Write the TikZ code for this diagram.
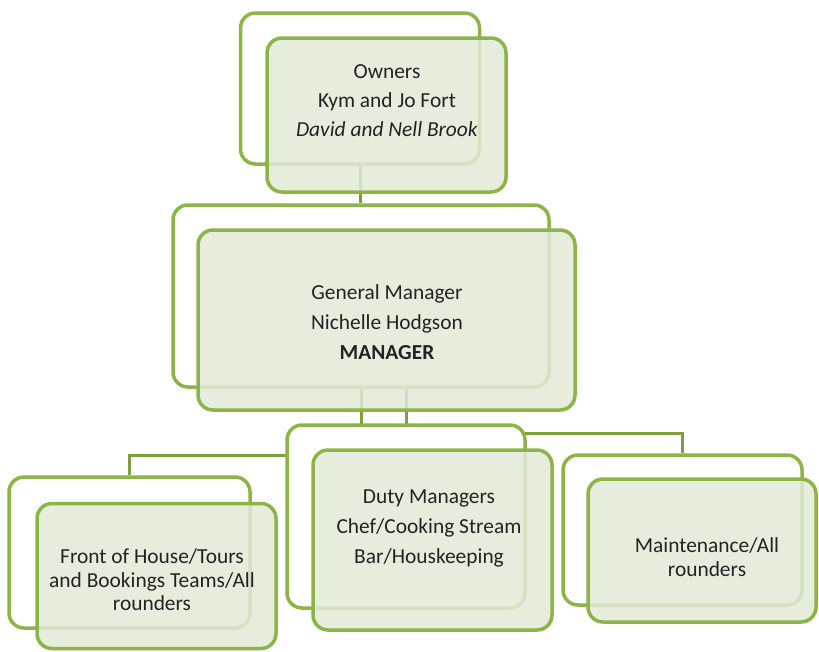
\documentclass[tikz,border=0pt]{standalone}
\usepackage{fontspec}
\setmainfont{Carlito}
\usetikzlibrary{backgrounds}
\definecolor{boxgreen}{RGB}{140,180,70}
\definecolor{linkgreen}{RGB}{125,160,60}
\definecolor{frontfill}{RGB}{226,234,214}
\definecolor{txt}{RGB}{35,35,35}
\begin{document}
\begin{tikzpicture}[x=1pt,y=1pt,
  backbox/.style={draw=boxgreen,line width=3.5pt,rounded corners=15pt,fill=white,inner sep=0pt},
  frontbox/.style={draw=boxgreen,line width=3.5pt,rounded corners=15pt,fill=frontfill,fill opacity=0.85,draw opacity=1,inner sep=0pt},
  label/.style={font=\fontsize{21.4}{23.5}\selectfont,text=txt,align=center,inner sep=0pt},
  link/.style={draw=linkgreen,line width=3pt}]
\useasboundingbox (0,0) rectangle (819,-651);
% back boxes
\node[backbox,minimum width=239pt,minimum height=151pt] (own1) at (360,-88.5) {};
\node[backbox,minimum width=376pt,minimum height=182pt] (gm1) at (361,-296) {};
\node[backbox,minimum width=241pt,minimum height=151pt] (foh1) at (129.5,-552.5) {};
\node[backbox,minimum width=238pt,minimum height=183pt] (duty1) at (406,-516.5) {};
\node[backbox,minimum width=239pt,minimum height=150pt] (mnt1) at (682.5,-530) {};
% front boxes
\node[frontbox,minimum width=239pt,minimum height=154pt] (own2) at (386.5,-115) {};
\node[frontbox,minimum width=377pt,minimum height=180pt] (gm2) at (386.5,-320) {};
\node[frontbox,minimum width=239pt,minimum height=145pt] (foh2) at (156.5,-576) {};
\node[frontbox,minimum width=239pt,minimum height=180pt] (duty2) at (432.5,-540) {};
\node[frontbox,minimum width=228pt,minimum height=143pt] (mnt2) at (702,-550.5) {};
% texts
\node[label] (ownT) at (387,-101) {Owners\\[5.5pt] Kym and Jo Fort\\[5.5pt] \textit{David and Nell Brook}};
\node[label] (gmT) at (387,-322) {General Manager\\[6.5pt] Nichelle Hodgson\\[6.5pt] \textbf{MANAGER}};
\node[label] (dutyT) at (429,-528) {Duty Managers\\[6.5pt] Chef/Cooking Stream\\[6.5pt] Bar/Houskeeping};
\node[label] (fohT) at (152,-580) {Front of House/Tours\\ and Bookings Teams/All\\ rounders};
\node[label] (mntT) at (707,-557) {Maintenance/All\\ rounders};
% connectors
\coordinate (jl) at (0,-455);
\coordinate (jr) at (0,-433);
\begin{pgfonlayer}{background}
\draw[link] (own1.south) -- (own1.south |- gm1.north);
\draw[link] (gm1.south) -- (gm1.south |- jl) -| (foh1.north);
\draw[link] (gm1.south -| duty1.north) -- (duty1.north);
\draw[link] (gm1.south -| duty1.north) -- (duty1.north |- jr) -| (mnt1.north);
\end{pgfonlayer}
\end{tikzpicture}
\end{document}
